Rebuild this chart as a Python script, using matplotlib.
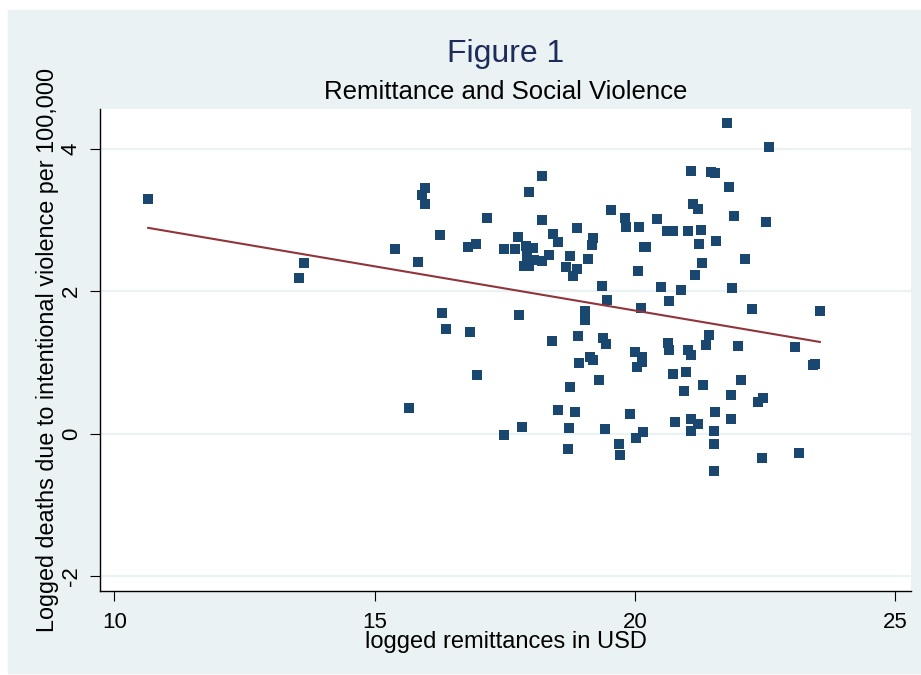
"""Figure 1: scatter of logged remittances vs logged violent deaths, with linear fit."""
import matplotlib
matplotlib.use("Agg")
import matplotlib.pyplot as plt
import numpy as np
from matplotlib.patches import Rectangle

# logged remittances in USD (x) and logged deaths per 100,000 (y)
remit = [
    10.65, 13.64, 13.55, 15.39,
    15.96, 15.90, 15.96, 15.84, 16.26, 16.80, 16.94, 17.16, 18.21, 17.96,
    18.22, 17.49, 17.69, 17.76, 17.90, 18.05, 17.92, 18.06, 17.86, 17.96,
    18.22, 18.35, 18.43, 18.53, 18.88, 18.75, 18.68, 18.89, 18.80, 19.10,
    19.20, 19.18, 19.54, 19.80, 19.82, 20.07, 20.18, 20.22, 20.05, 19.37,
    19.46, 16.30, 16.37, 16.83, 17.78, 19.03, 19.03, 20.12, 18.40, 18.91,
    19.38, 19.45,
    19.99, 20.14, 20.14, 20.04, 19.14, 19.19, 18.92, 19.30, 18.75, 16.96,
    15.65, 18.53, 18.84, 19.91, 17.82, 17.48, 18.74, 19.43, 20.15, 20.01,
    19.70, 19.71, 18.72,
    21.76, 22.58, 21.08, 21.45, 21.53, 21.81, 21.11, 21.21, 21.90, 22.51,
    20.42, 20.62, 20.72, 21.02, 21.26, 21.23, 21.56, 21.28, 21.15, 22.11,
    20.50, 20.88, 21.87, 20.66, 22.24, 23.55, 21.43,
    20.64, 20.65, 21.02, 21.08, 21.37, 21.97, 23.07, 23.42, 23.45, 20.72,
    20.97, 20.94, 21.30, 22.03, 21.85, 22.37, 22.46, 21.54, 20.77, 21.08,
    21.21, 21.08, 21.52, 21.85, 21.52, 22.44, 23.14, 21.51,
]
deaths = [
    3.29, 2.39, 2.18, 2.59,
    3.45, 3.35, 3.22, 2.41, 2.79, 2.62, 2.67, 3.03, 3.62, 3.39,
    3.00, 2.59, 2.59, 2.76, 2.64, 2.61, 2.49, 2.44, 2.35, 2.35,
    2.43, 2.51, 2.81, 2.69, 2.89, 2.50, 2.34, 2.31, 2.21, 2.46,
    2.75, 2.65, 3.14, 3.03, 2.90, 2.90, 2.62, 2.62, 2.28, 2.07,
    1.88, 1.70, 1.47, 1.43, 1.66, 1.72, 1.60, 1.76, 1.30, 1.37,
    1.34, 1.26,
    1.15, 1.07, 1.01, 0.94, 1.08, 1.03, 0.99, 0.76, 0.66, 0.83,
    0.36, 0.33, 0.30, 0.27, 0.10, -0.02, 0.08, 0.07, 0.02, -0.06,
    -0.14, -0.30, -0.22,
    4.36, 4.02, 3.69, 3.67, 3.66, 3.47, 3.23, 3.16, 3.06, 2.97,
    3.01, 2.85, 2.85, 2.85, 2.86, 2.67, 2.70, 2.39, 2.23, 2.45,
    2.06, 2.02, 2.04, 1.86, 1.75, 1.72, 1.39,
    1.27, 1.17, 1.17, 1.11, 1.25, 1.23, 1.22, 0.96, 0.98, 0.84,
    0.86, 0.60, 0.69, 0.75, 0.54, 0.45, 0.50, 0.31, 0.17, 0.21,
    0.14, 0.04, 0.04, 0.21, -0.14, -0.34, -0.27, -0.53,
]
xticks = [10, 15, 20, 25]
yticks = [-2, 0, 2, 4]

BG = "#eaf2f3"
NAVY = "#1a476f"
MAROON = "#90353b"


def main():
    plt.rcParams["font.family"] = ["Liberation Sans", "DejaVu Sans"]
    plt.rcParams["axes.unicode_minus"] = False
    W, H = 921, 675
    fig = plt.figure(figsize=(W / 100, H / 100), dpi=100, facecolor="white")
    fig.patches.append(Rectangle((8 / W, 2 / H), 1 - 8 / W, (673 - 10) / H,
                                 transform=fig.transFigure, color=BG, zorder=-10))

    ax = fig.add_axes([100 / W, 1 - 591 / H, 811 / W, 482 / H])
    ax.set_facecolor("white")

    x = np.array(remit)
    y = np.array(deaths)
    ax.plot(x, y, "s", color=NAVY, markersize=6.5, markeredgewidth=0, zorder=3)

    slope, icpt = np.polyfit(x, y, 1)
    xl = np.array([x.min(), x.max()])
    ax.plot(xl, icpt + slope * xl, color=MAROON, lw=1.5, zorder=4)

    ax.set_xlim(9.725, 25.30)
    ax.set_ylim(-2.21, 4.56)
    ax.set_xticks(xticks)
    ax.set_yticks(yticks)
    ax.yaxis.grid(True, color=BG, lw=1.6)
    ax.set_axisbelow(True)
    for s in ("top", "right"):
        ax.spines[s].set_visible(False)
    for s in ("left", "bottom"):
        ax.spines[s].set_linewidth(1.0)
    ax.tick_params(axis="both", length=7, width=0.8, labelsize=16)
    ax.tick_params(axis="x", pad=8)
    ax.tick_params(axis="y", pad=6, labelrotation=90)
    for lab in ax.get_yticklabels():
        lab.set_va("center")

    cx = (100 + 911) / 2 / W
    fig.text(cx, 1 - 62 / H, "Figure 1", ha="center", va="baseline",
             fontsize=23, color="#1e2c5a")
    fig.text(cx, 1 - 99 / H, "Remittance and Social Violence", ha="center",
             va="baseline", fontsize=18.5, color="black")
    fig.text(cx, 1 - 648 / H, "logged remittances in USD", ha="center",
             va="baseline", fontsize=17)
    fig.text(48 / W, 1 - 350 / H,
             "Logged deaths due to intentional violence per 100,000",
             rotation=90, ha="center", va="center", fontsize=16.8)

    fig.savefig("out.png", dpi=100)


if __name__ == "__main__":
    main()
